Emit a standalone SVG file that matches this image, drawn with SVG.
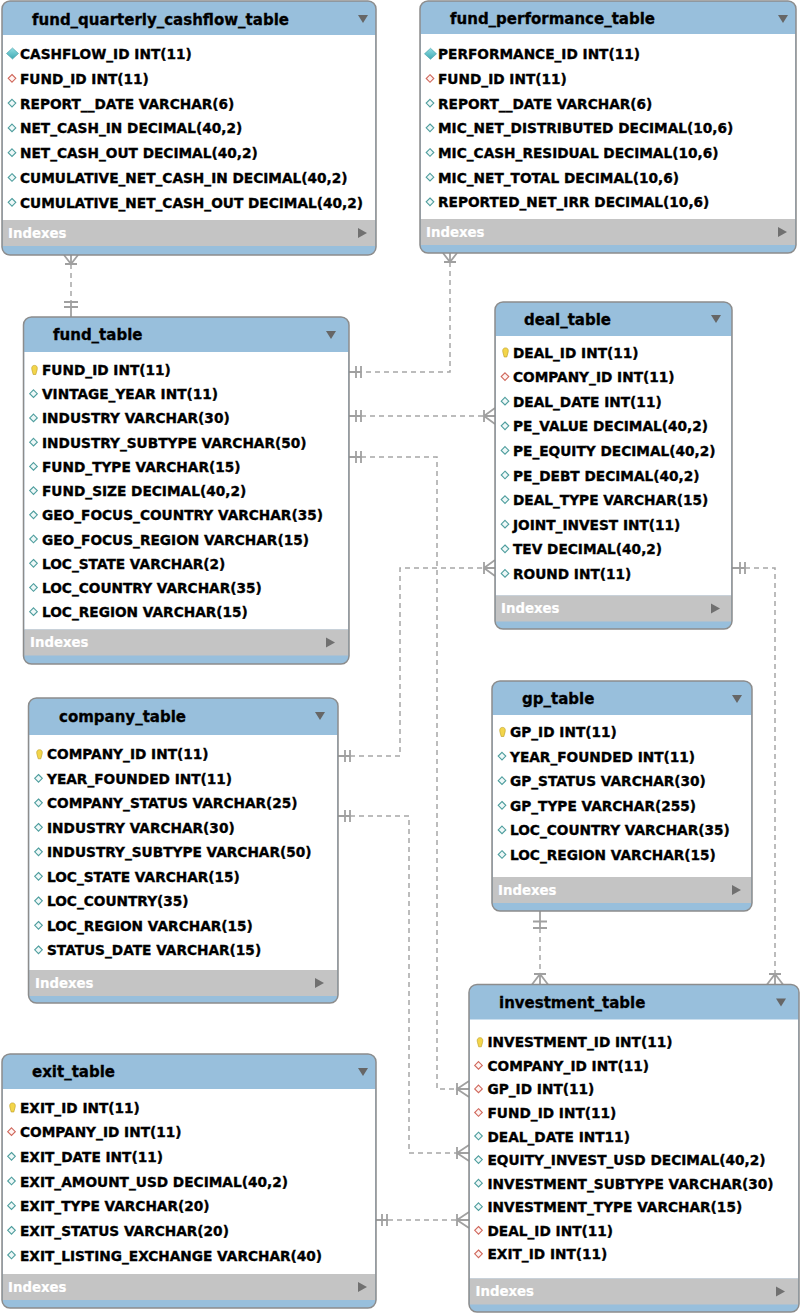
<svg xmlns="http://www.w3.org/2000/svg" xmlns:xlink="http://www.w3.org/1999/xlink" width="800" height="1314" viewBox="0 0 800 1314">
<style>
.frame{fill:#98bfdc;stroke:none}
.body{fill:#ffffff}
.idx{fill:#c4c4c4}
.border{fill:none;stroke:#8c8c8c;stroke-width:1.5}
.title{font-family:"DejaVu Sans",Verdana,sans-serif;font-weight:bold;font-size:15px;fill:#000;stroke:#000;stroke-width:0.3}
.row{font-family:"DejaVu Sans",Verdana,sans-serif;font-weight:bold;font-size:13.7px;fill:#000;stroke:#000;stroke-width:0.35}
.idxt{font-family:"DejaVu Sans",Verdana,sans-serif;font-weight:bold;font-size:13.3px;fill:#ffffff;stroke:#ffffff;stroke-width:0.2}
.tri{fill:#666666}
.tri2{fill:#707070}
.rel{fill:none;stroke:#a6a6a6;stroke-width:1.5;stroke-dasharray:5 4}
.mk{fill:none;stroke:#a0a0a0;stroke-width:1.8}
</style>
<defs>
<linearGradient id="gpk" x1="0" y1="0" x2="0" y2="1"><stop offset="0" stop-color="#8fdde2"/><stop offset="1" stop-color="#3fa9b3"/></linearGradient>
<polygon id="pk" points="0,-5.5 6,0 0,5.5 -6,0" fill="url(#gpk)" stroke="#3f9aa3" stroke-width="0.6"/>
<polygon id="col" points="0,-3.8 3.8,0 0,3.8 -3.8,0" fill="#eef8f8" stroke="#4f9e9e" stroke-width="1.1"/>
<polygon id="fk" points="0,-3.8 3.8,0 0,3.8 -3.8,0" fill="#fff4f2" stroke="#d0685c" stroke-width="1.1"/>
<path id="key" d="M0,-4.6 C2.9,-4.6 3.1,-2 2.5,0.2 L1.3,4.5 L-1.3,4.5 L-2.5,0.2 C-3.1,-2 -2.9,-4.6 0,-4.6 Z" fill="#f3d54a" stroke="#b8981e" stroke-width="0.6"/>
</defs>
<rect x="0" y="0" width="800" height="1314" fill="#ffffff"/>

<g id="connectors">
  <path class="rel" d="M71 264 V302"/>
  <path class="mk" d="M64 255 L71 264 L78 255 M71 255 V264 M65 264 H77 M64 302 H78 M64 307 H78 M71 302 V317"/>
  <path class="rel" d="M450 262 V372 H361"/>
  <path class="mk" d="M443 253 L450 262 L457 253 M450 253 V262 M444 262 H456 M349 372 H361 M356 366 V378 M361 366 V378"/>
  <path class="rel" d="M361 416 H484"/>
  <path class="mk" d="M349 416 H361 M356 410 V422 M361 410 V422 M495 408 L484 416 L495 424 M484 416 H495 M484 410 V422"/>
  <path class="rel" d="M361 457 H437 V1089 H457"/>
  <path class="mk" d="M349 457 H361 M356 451 V463 M361 451 V463 M469 1081 L457 1089 L469 1097 M457 1089 H469 M457 1083 V1095"/>
  <path class="rel" d="M350 756 H400 V568 H484"/>
  <path class="mk" d="M338 756 H350 M345 750 V762 M350 750 V762 M495 560 L484 568 L495 576 M484 568 H495 M484 562 V574"/>
  <path class="rel" d="M350 816 H409 V1153 H457"/>
  <path class="mk" d="M338 816 H350 M345 810 V822 M350 810 V822 M469 1145 L457 1153 L469 1161 M457 1153 H469 M457 1147 V1159"/>
  <path class="rel" d="M745 568 H775 V974"/>
  <path class="mk" d="M732 568 H745 M740 562 V574 M745 562 V574 M767 984.5 L775 974 L783 984.5 M775 974 V984.5 M769 974 H781"/>
  <path class="rel" d="M540 928 V974"/>
  <path class="mk" d="M540 911 V928 M533 921.5 H547 M533 928 H547 M532 984.5 L540 974 L548 984.5 M540 974 V984.5 M534 974 H546"/>
  <path class="rel" d="M388 1220 H457"/>
  <path class="mk" d="M376 1220 H388 M382 1214 V1226 M387 1214 V1226 M469 1212 L457 1220 L469 1228 M457 1220 H469 M457 1214 V1226"/>
</g>

<g id="fund_quarterly_cashflow_table" transform="translate(2,1)">
  <rect class="frame" x="0" y="0" width="374" height="254" rx="8"/>
  <rect class="body" x="0.75" y="34" width="372.5" height="185"/>
  <rect class="idx" x="0.75" y="219" width="372.5" height="26"/>
  <rect class="border" x="0" y="0" width="374" height="254" rx="8"/>
  <text class="title" x="30" y="23.5">fund_quarterly_cashflow_table</text>
  <polygon class="tri" points="356,14 366,14 361,22"/>
  <use href="#pk" x="10.5" y="52.5"/><text class="row" x="18" y="58">CASHFLOW_ID INT(11)</text>
  <use href="#fk" x="10" y="77.3"/><text class="row" x="18" y="82.8">FUND_ID INT(11)</text>
  <use href="#col" x="10" y="102.1"/><text class="row" x="18" y="107.6">REPORT__DATE VARCHAR(6)</text>
  <use href="#col" x="10" y="126.9"/><text class="row" x="18" y="132.4">NET_CASH_IN DECIMAL(40,2)</text>
  <use href="#col" x="10" y="151.7"/><text class="row" x="18" y="157.2">NET_CASH_OUT DECIMAL(40,2)</text>
  <use href="#col" x="10" y="176.5"/><text class="row" x="18" y="182">CUMULATIVE_NET_CASH_IN DECIMAL(40,2)</text>
  <use href="#col" x="10" y="201.3"/><text class="row" x="18" y="206.8">CUMULATIVE_NET_CASH_OUT DECIMAL(40,2)</text>
  <text class="idxt" x="6" y="236.7">Indexes</text>
  <polygon class="tri2" points="356,227 356,237 365,232"/>
</g>

<g id="fund_performance_table" transform="translate(420,1)">
  <rect class="frame" x="0" y="0" width="376" height="252" rx="8"/>
  <rect class="body" x="0.75" y="33" width="374.5" height="185"/>
  <rect class="idx" x="0.75" y="218" width="374.5" height="26"/>
  <rect class="border" x="0" y="0" width="376" height="252" rx="8"/>
  <text class="title" x="30" y="23">fund_performance_table</text>
  <polygon class="tri" points="358,14 368,14 363,22"/>
  <use href="#pk" x="10.5" y="52.8"/><text class="row" x="18" y="58.3">PERFORMANCE_ID INT(11)</text>
  <use href="#fk" x="10" y="77.5"/><text class="row" x="18" y="83">FUND_ID INT(11)</text>
  <use href="#col" x="10" y="102.1"/><text class="row" x="18" y="107.6">REPORT__DATE VARCHAR(6)</text>
  <use href="#col" x="10" y="126.8"/><text class="row" x="18" y="132.3">MIC_NET_DISTRIBUTED DECIMAL(10,6)</text>
  <use href="#col" x="10" y="151.5"/><text class="row" x="18" y="157">MIC_CASH_RESIDUAL DECIMAL(10,6)</text>
  <use href="#col" x="10" y="176.2"/><text class="row" x="18" y="181.7">MIC_NET_TOTAL DECIMAL(10,6)</text>
  <use href="#col" x="10" y="200.8"/><text class="row" x="18" y="206.3">REPORTED_NET_IRR DECIMAL(10,6)</text>
  <text class="idxt" x="6" y="235.7">Indexes</text>
  <polygon class="tri2" points="358,226 358,236 367,231"/>
</g>

<g id="fund_table" transform="translate(23.5,317)">
  <rect class="frame" x="0" y="0" width="325.5" height="347" rx="8"/>
  <rect class="body" x="0.75" y="35" width="324" height="277.5"/>
  <rect class="idx" x="0.75" y="312.5" width="324" height="26"/>
  <rect class="border" x="0" y="0" width="325.5" height="347" rx="8"/>
  <text class="title" x="29.5" y="23">fund_table</text>
  <polygon class="tri" points="302.5,14 312.5,14 307.5,22"/>
  <use href="#key" x="11" y="53"/><text class="row" x="18.5" y="58">FUND_ID INT(11)</text>
  <use href="#col" x="10" y="76.7"/><text class="row" x="18.5" y="82.2">VINTAGE_YEAR INT(11)</text>
  <use href="#col" x="10" y="100.9"/><text class="row" x="18.5" y="106.4">INDUSTRY VARCHAR(30)</text>
  <use href="#col" x="10" y="125.2"/><text class="row" x="18.5" y="130.7">INDUSTRY_SUBTYPE VARCHAR(50)</text>
  <use href="#col" x="10" y="149.4"/><text class="row" x="18.5" y="154.9">FUND_TYPE VARCHAR(15)</text>
  <use href="#col" x="10" y="173.6"/><text class="row" x="18.5" y="179.1">FUND_SIZE DECIMAL(40,2)</text>
  <use href="#col" x="10" y="197.8"/><text class="row" x="18.5" y="203.3">GEO_FOCUS_COUNTRY VARCHAR(35)</text>
  <use href="#col" x="10" y="222"/><text class="row" x="18.5" y="227.5">GEO_FOCUS_REGION VARCHAR(15)</text>
  <use href="#col" x="10" y="246.3"/><text class="row" x="18.5" y="251.8">LOC_STATE VARCHAR(2)</text>
  <use href="#col" x="10" y="270.5"/><text class="row" x="18.5" y="276">LOC_COUNTRY VARCHAR(35)</text>
  <use href="#col" x="10" y="294.7"/><text class="row" x="18.5" y="300.2">LOC_REGION VARCHAR(15)</text>
  <text class="idxt" x="6.5" y="330.2">Indexes</text>
  <polygon class="tri2" points="302.5,320.5 302.5,330.5 311.5,325.5"/>
</g>

<g id="deal_table" transform="translate(495,302)">
  <rect class="frame" x="0" y="0" width="237" height="327" rx="8"/>
  <rect class="body" x="0.75" y="34" width="235.5" height="259.5"/>
  <rect class="idx" x="0.75" y="293.5" width="235.5" height="26"/>
  <rect class="border" x="0" y="0" width="237" height="327" rx="8"/>
  <text class="title" x="29" y="22.5">deal_table</text>
  <polygon class="tri" points="216,13 226,13 221,21"/>
  <use href="#key" x="10.5" y="50.5"/><text class="row" x="18" y="55.5">DEAL_ID INT(11)</text>
  <use href="#fk" x="10" y="74.6"/><text class="row" x="18" y="80.1">COMPANY_ID INT(11)</text>
  <use href="#col" x="10" y="99.2"/><text class="row" x="18" y="104.7">DEAL_DATE INT(11)</text>
  <use href="#col" x="10" y="123.8"/><text class="row" x="18" y="129.3">PE_VALUE DECIMAL(40,2)</text>
  <use href="#col" x="10" y="148.4"/><text class="row" x="18" y="153.9">PE_EQUITY DECIMAL(40,2)</text>
  <use href="#col" x="10" y="173"/><text class="row" x="18" y="178.5">PE_DEBT DECIMAL(40,2)</text>
  <use href="#col" x="10" y="197.6"/><text class="row" x="18" y="203.1">DEAL_TYPE VARCHAR(15)</text>
  <use href="#col" x="10" y="222.2"/><text class="row" x="18" y="227.7">JOINT_INVEST INT(11)</text>
  <use href="#col" x="10" y="246.8"/><text class="row" x="18" y="252.3">TEV DECIMAL(40,2)</text>
  <use href="#col" x="10" y="271.4"/><text class="row" x="18" y="276.9">ROUND INT(11)</text>
  <text class="idxt" x="6" y="311.2">Indexes</text>
  <polygon class="tri2" points="216,301.5 216,311.5 225,306.5"/>
</g>

<g id="company_table" transform="translate(28.5,698)">
  <rect class="frame" x="0" y="0" width="309.5" height="305" rx="8"/>
  <rect class="body" x="0.75" y="37" width="308" height="235"/>
  <rect class="idx" x="0.75" y="272" width="308" height="26"/>
  <rect class="border" x="0" y="0" width="309.5" height="305" rx="8"/>
  <text class="title" x="30.5" y="23.5">company_table</text>
  <polygon class="tri" points="286.5,14 296.5,14 291.5,22"/>
  <use href="#key" x="11" y="56.3"/><text class="row" x="18.5" y="61.3">COMPANY_ID INT(11)</text>
  <use href="#col" x="10" y="80.3"/><text class="row" x="18.5" y="85.8">YEAR_FOUNDED INT(11)</text>
  <use href="#col" x="10" y="104.8"/><text class="row" x="18.5" y="110.3">COMPANY_STATUS VARCHAR(25)</text>
  <use href="#col" x="10" y="129.3"/><text class="row" x="18.5" y="134.8">INDUSTRY VARCHAR(30)</text>
  <use href="#col" x="10" y="153.8"/><text class="row" x="18.5" y="159.3">INDUSTRY_SUBTYPE VARCHAR(50)</text>
  <use href="#col" x="10" y="178.3"/><text class="row" x="18.5" y="183.8">LOC_STATE VARCHAR(15)</text>
  <use href="#col" x="10" y="202.8"/><text class="row" x="18.5" y="208.3">LOC_COUNTRY(35)</text>
  <use href="#col" x="10" y="227.3"/><text class="row" x="18.5" y="232.8">LOC_REGION VARCHAR(15)</text>
  <use href="#col" x="10" y="251.8"/><text class="row" x="18.5" y="257.3">STATUS_DATE VARCHAR(15)</text>
  <text class="idxt" x="6.5" y="289.7">Indexes</text>
  <polygon class="tri2" points="286.5,280 286.5,290 295.5,285"/>
</g>

<g id="gp_table" transform="translate(492,681)">
  <rect class="frame" x="0" y="0" width="260" height="230" rx="8"/>
  <rect class="body" x="0.75" y="34" width="258.5" height="162"/>
  <rect class="idx" x="0.75" y="196" width="258.5" height="26"/>
  <rect class="border" x="0" y="0" width="260" height="230" rx="8"/>
  <text class="title" x="30" y="23">gp_table</text>
  <polygon class="tri" points="240,14 250,14 245,22"/>
  <use href="#key" x="10.5" y="51"/><text class="row" x="18" y="56">GP_ID INT(11)</text>
  <use href="#col" x="10" y="75.1"/><text class="row" x="18" y="80.6">YEAR_FOUNDED INT(11)</text>
  <use href="#col" x="10" y="99.7"/><text class="row" x="18" y="105.2">GP_STATUS VARCHAR(30)</text>
  <use href="#col" x="10" y="124.3"/><text class="row" x="18" y="129.8">GP_TYPE VARCHAR(255)</text>
  <use href="#col" x="10" y="148.9"/><text class="row" x="18" y="154.4">LOC_COUNTRY VARCHAR(35)</text>
  <use href="#col" x="10" y="173.5"/><text class="row" x="18" y="179">LOC_REGION VARCHAR(15)</text>
  <text class="idxt" x="6" y="213.7">Indexes</text>
  <polygon class="tri2" points="240,204 240,214 249,209"/>
</g>

<g id="investment_table" transform="translate(469,984.5)">
  <rect class="frame" x="0" y="0" width="330" height="327.5" rx="8"/>
  <rect class="body" x="0.75" y="35" width="328.5" height="259"/>
  <rect class="idx" x="0.75" y="294" width="328.5" height="26"/>
  <rect class="border" x="0" y="0" width="330" height="327.5" rx="8"/>
  <text class="title" x="30" y="23">investment_table</text>
  <polygon class="tri" points="307,14 317,14 312,22"/>
  <use href="#key" x="11" y="57.8"/><text class="row" x="18.5" y="62.8">INVESTMENT_ID INT(11)</text>
  <use href="#fk" x="9.5" y="80.9"/><text class="row" x="18.5" y="86.4">COMPANY_ID INT(11)</text>
  <use href="#fk" x="9.5" y="104.4"/><text class="row" x="18.5" y="109.9">GP_ID INT(11)</text>
  <use href="#fk" x="9.5" y="128"/><text class="row" x="18.5" y="133.5">FUND_ID INT(11)</text>
  <use href="#col" x="9.5" y="151.5"/><text class="row" x="18.5" y="157">DEAL_DATE INT11)</text>
  <use href="#col" x="9.5" y="175.1"/><text class="row" x="18.5" y="180.6">EQUITY_INVEST_USD DECIMAL(40,2)</text>
  <use href="#col" x="9.5" y="198.7"/><text class="row" x="18.5" y="204.2">INVESTMENT_SUBTYPE VARCHAR(30)</text>
  <use href="#col" x="9.5" y="222.2"/><text class="row" x="18.5" y="227.7">INVESTMENT_TYPE VARCHAR(15)</text>
  <use href="#fk" x="9.5" y="245.8"/><text class="row" x="18.5" y="251.3">DEAL_ID INT(11)</text>
  <use href="#fk" x="9.5" y="269.3"/><text class="row" x="18.5" y="274.8">EXIT_ID INT(11)</text>
  <text class="idxt" x="6.5" y="311.7">Indexes</text>
  <polygon class="tri2" points="307,302 307,312 316,307"/>
</g>

<g id="exit_table" transform="translate(2,1054)">
  <rect class="frame" x="0" y="0" width="374" height="254" rx="8"/>
  <rect class="body" x="0.75" y="35" width="372.5" height="185"/>
  <rect class="idx" x="0.75" y="220" width="372.5" height="26"/>
  <rect class="border" x="0" y="0" width="374" height="254" rx="8"/>
  <text class="title" x="30" y="23">exit_table</text>
  <polygon class="tri" points="356,14 366,14 361,22"/>
  <use href="#key" x="10.5" y="53.5"/><text class="row" x="18" y="58.5">EXIT_ID INT(11)</text>
  <use href="#fk" x="9.5" y="77.7"/><text class="row" x="18" y="83.2">COMPANY_ID INT(11)</text>
  <use href="#col" x="9.5" y="102.3"/><text class="row" x="18" y="107.8">EXIT_DATE INT(11)</text>
  <use href="#col" x="9.5" y="127"/><text class="row" x="18" y="132.5">EXIT_AMOUNT_USD DECIMAL(40,2)</text>
  <use href="#col" x="9.5" y="151.7"/><text class="row" x="18" y="157.2">EXIT_TYPE VARCHAR(20)</text>
  <use href="#col" x="9.5" y="176.3"/><text class="row" x="18" y="181.8">EXIT_STATUS VARCHAR(20)</text>
  <use href="#col" x="9.5" y="201"/><text class="row" x="18" y="206.5">EXIT_LISTING_EXCHANGE VARCHAR(40)</text>
  <text class="idxt" x="6" y="237.7">Indexes</text>
  <polygon class="tri2" points="356,228 356,238 365,233"/>
</g>
</svg>
